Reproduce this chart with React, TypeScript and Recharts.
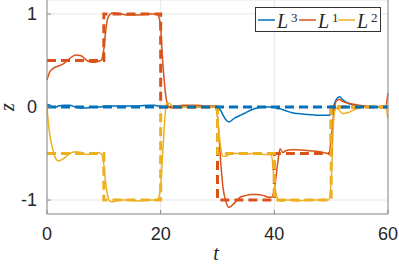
import { CartesianGrid, Line, LineChart, XAxis, YAxis } from "recharts";

// time grid of the simulated responses
const T = [
  0, 0.5, 1, 1.5, 2, 3, 4, 5, 6, 7, 8, 9, 9.5, 10, 10.3, 10.6, 11, 11.5, 12, 13, 14, 16, 18, 19, 19.5, 20,
  20.3, 20.6, 21, 21.5, 22, 23, 24, 26, 28, 29.5, 30, 30.3, 30.6, 31, 31.5, 32, 33, 34, 35, 36, 37, 38, 39,
  39.5, 40, 40.3, 40.6, 41, 41.5, 42, 43, 44, 46, 48, 49.5, 50, 50.3, 50.6, 51, 51.5, 52, 53, 54, 56, 58,
  59.5, 60,
];

const L1 = [
  0.29, 0.38, 0.41, 0.43, 0.44, 0.47, 0.52, 0.56, 0.55, 0.5, 0.48, 0.49, 0.5, 0.62, 0.8, 0.93, 0.99, 1.01,
  1.01, 1.0, 0.99, 0.99, 1.0, 1.0, 0.99, 0.85, 0.55, 0.3, 0.08, 0.0, -0.01, 0.01, 0.02, 0.02, 0.01, 0.01,
  -0.1, -0.35, -0.62, -0.88, -1.02, -1.08, -1.03, -0.97, -0.95, -0.94, -0.94, -0.95, -0.97, -0.97, -0.88,
  -0.75, -0.6, -0.45, -0.49, -0.47, -0.46, -0.46, -0.47, -0.48, -0.5, -0.35, -0.15, 0.0, 0.07, 0.08, 0.06,
  0.04, 0.03, 0.01, 0.0, 0.0, 0.15,
];

const L2 = [
  -0.02, -0.3, -0.45, -0.55, -0.58, -0.55, -0.5, -0.48, -0.49, -0.51, -0.5, -0.49, -0.5, -0.62, -0.8, -0.93,
  -1.01, -1.02, -1.01, -1.0, -1.0, -1.01, -1.0, -1.0, -0.99, -0.85, -0.55, -0.25, 0.03, 0.04, 0.01, -0.01,
  0.0, 0.0, 0.0, 0.0, -0.1, -0.3, -0.45, -0.53, -0.53, -0.51, -0.5, -0.5, -0.51, -0.5, -0.5, -0.51, -0.51,
  -0.52, -0.82, -0.93, -0.99, -1.01, -1.01, -1.0, -1.0, -1.01, -1.0, -1.0, -1.0, -0.8, -0.3, -0.05, -0.01,
  -0.04, -0.07, -0.06, -0.03, 0.0, 0.0, 0.0, -0.12,
];

const L3 = [
  0.03, 0.02, 0.0, 0.0, 0.01, 0.02, 0.02, 0.0, -0.01, -0.01, 0.0, 0.0, 0.0, 0.01, 0.01, 0.01, 0.01, 0.01,
  0.01, 0.01, 0.01, 0.01, 0.02, 0.02, 0.01, 0.01, 0.0, 0.0, 0.0, 0.0, 0.01, 0.01, 0.01, 0.0, 0.0, 0.0,
  -0.01, -0.02, -0.04, -0.09, -0.14, -0.16, -0.12, -0.09, -0.06, -0.03, -0.01, 0.0, 0.0, 0.0, 0.0, -0.01,
  -0.02, -0.02, -0.03, -0.04, -0.06, -0.07, -0.08, -0.09, -0.09, -0.08, -0.02, 0.04, 0.09, 0.11, 0.08,
  0.04, 0.02, 0.0, 0.0, 0.0, 0.0,
];

// reference steps (dashed)
const REF_T = [0, 10, 10, 20, 20, 30, 30, 40, 40, 50, 50, 60];
const REF1 = [0.5, 0.5, 1, 1, 0, 0, -1, -1, -0.5, -0.5, 0, 0];
const REF2 = [-0.5, -0.5, -1, -1, 0, 0, -0.5, -0.5, -1, -1, 0, 0];
const REF3_T = [0, 60];
const REF3 = [0, 0];

const X_TICKS = [0, 20, 40, 60];
const Y_TICKS = [-1, 0, 1];

const BLUE = "#0072BD";
const ORANGE = "#D95319";
const YELLOW = "#EDB120";
const AXIS = "#8c8c8c";
const TEXT = "#262626";

const LEGEND = [
  { name: "L", sup: "3", color: BLUE },
  { name: "L", sup: "1", color: ORANGE },
  { name: "L", sup: "2", color: YELLOW },
];

const solid = T.map((t, i) => ({ t, l1: L1[i], l2: L2[i], l3: L3[i] }));
const ref1 = REF_T.map((t, i) => ({ t, r: REF1[i] }));
const ref2 = REF_T.map((t, i) => ({ t, r: REF2[i] }));
const ref3 = REF3_T.map((t, i) => ({ t, r: REF3[i] }));

const tickFont = { fill: TEXT, fontSize: 18, fontFamily: "Liberation Sans, Arial, sans-serif" };
const serif = "Liberation Serif, Times New Roman, serif";

export default function App() {
  return (
    <div style={{ position: "absolute", left: 0, top: 0, width: 399, height: 265, background: "#fff" }}>
      <LineChart width={399} height={265} margin={{ top: 0, right: 0, bottom: 0, left: 0 }}>
        <CartesianGrid stroke="#e6e6e6" ticks={X_TICKS} />
        <XAxis
          dataKey="t"
          type="number"
          domain={[0, 60]}
          ticks={X_TICKS}
          allowDuplicatedCategory
          height={51}
          tick={tickFont}
          tickSize={-4}
          tickMargin={17}
          stroke={AXIS}
        />
        <XAxis
          xAxisId="top"
          orientation="top"
          type="number"
          domain={[0, 60]}
          ticks={X_TICKS}
          height={0}
          tick={false}
          tickSize={-4}
          axisLine={false}
          stroke={AXIS}
        />
        <YAxis
          type="number"
          domain={[-1.15, 1.15]}
          ticks={Y_TICKS}
          width={47}
          tick={tickFont}
          tickSize={-4}
          tickMargin={14}
          stroke={AXIS}
        />
        <YAxis
          yAxisId="r"
          orientation="right"
          type="number"
          domain={[-1.15, 1.15]}
          ticks={Y_TICKS}
          width={11}
          tick={false}
          tickSize={-4}
          stroke={AXIS}
        />
        <Line data={solid} dataKey="l3" type="monotone" stroke={BLUE} strokeWidth={1.5} dot={false} isAnimationActive={false} />
        <Line data={solid} dataKey="l1" type="monotone" stroke={ORANGE} strokeWidth={1.5} dot={false} isAnimationActive={false} />
        <Line data={solid} dataKey="l2" type="monotone" stroke={YELLOW} strokeWidth={1.5} dot={false} isAnimationActive={false} />
        <Line data={ref1} dataKey="r" type="linear" stroke={ORANGE} strokeWidth={3} strokeDasharray="9 5" dot={false} isAnimationActive={false} />
        <Line data={ref2} dataKey="r" type="linear" stroke={YELLOW} strokeWidth={3} strokeDasharray="9 5" dot={false} isAnimationActive={false} />
        <Line data={ref3} dataKey="r" type="linear" stroke={BLUE} strokeWidth={3} strokeDasharray="9 5" dot={false} isAnimationActive={false} />
      </LineChart>
      <svg width={399} height={265} style={{ position: "absolute", left: 0, top: 0, pointerEvents: "none" }}>
        <text x={216} y={260} textAnchor="middle" fontFamily={serif} fontStyle="italic" fontSize={20} fill={TEXT}>
          t
        </text>
        <text
          x={14}
          y={107}
          textAnchor="middle"
          transform="rotate(-90 14 107)"
          fontFamily={serif}
          fontStyle="italic"
          fontSize={20}
          fill={TEXT}
        >
          z
        </text>
        <rect x={255.5} y={7.5} width={125} height={24} fill="#fff" stroke="#333" strokeWidth={1} />
        {LEGEND.map((item, i) => {
          const x0 = [258, 299, 338][i];
          return (
            <g key={i}>
              <line x1={x0} x2={x0 + 17} y1={20} y2={20} stroke={item.color} strokeWidth={1.5} />
              <text x={x0 + 19} y={28} fontFamily={serif} fontStyle="italic" fontSize={20} fill={TEXT}>
                {item.name}
              </text>
              <text x={x0 + 33} y={21.5} fontFamily={serif} fontSize={13} fill={TEXT}>
                {item.sup}
              </text>
            </g>
          );
        })}
      </svg>
    </div>
  );
}
